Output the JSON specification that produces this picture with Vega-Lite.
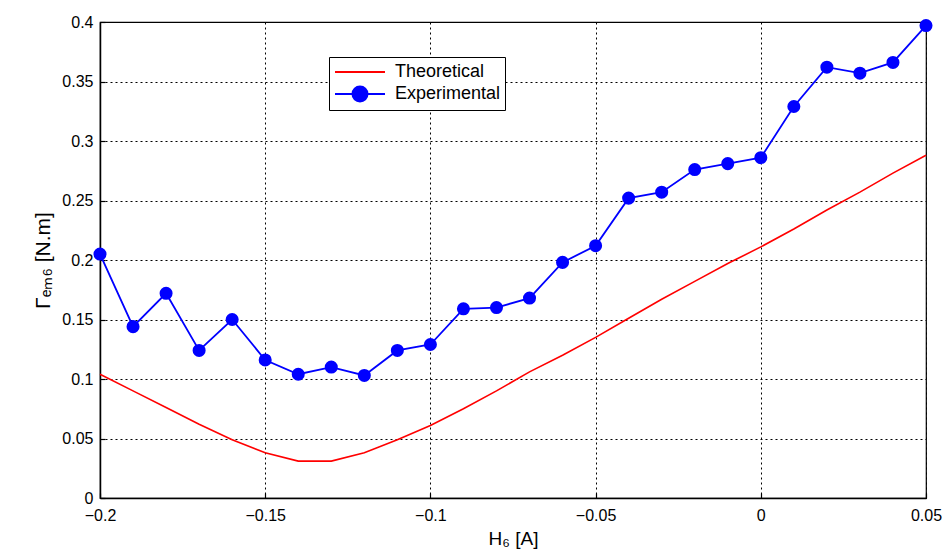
{
  "$schema": "https://vega.github.io/schema/vega-lite/v6.json",
  "width": 826,
  "height": 476,
  "autosize": {"type": "none"},
  "padding": {"left": 100, "top": 22, "right": 22, "bottom": 58},
  "background": "white",
  "config": {
    "font": "Liberation Sans",
    "view": {"stroke": "black", "strokeWidth": 1.2},
    "axis": {
      "domainColor": "black",
      "domainWidth": 1.5,
      "tickColor": "black",
      "tickSize": -5,
      "tickWidth": 1.2,
      "gridColor": "black",
      "gridDash": [2, 3],
      "gridOpacity": 1,
      "gridWidth": 1,
      "labelFont": "Liberation Sans",
      "labelFontSize": 16,
      "labelColor": "black",
      "titleFont": "Liberation Sans",
      "titleColor": "black",
      "titleFontWeight": "normal"
    }
  },
  "data": {
    "values": [
      {"h": -0.2, "gamma": 0.205, "series": "Experimental"},
      {"h": -0.19, "gamma": 0.144, "series": "Experimental"},
      {"h": -0.18, "gamma": 0.172, "series": "Experimental"},
      {"h": -0.17, "gamma": 0.124, "series": "Experimental"},
      {"h": -0.16, "gamma": 0.150, "series": "Experimental"},
      {"h": -0.15, "gamma": 0.116, "series": "Experimental"},
      {"h": -0.14, "gamma": 0.104, "series": "Experimental"},
      {"h": -0.13, "gamma": 0.110, "series": "Experimental"},
      {"h": -0.12, "gamma": 0.103, "series": "Experimental"},
      {"h": -0.11, "gamma": 0.124, "series": "Experimental"},
      {"h": -0.1, "gamma": 0.129, "series": "Experimental"},
      {"h": -0.09, "gamma": 0.159, "series": "Experimental"},
      {"h": -0.08, "gamma": 0.160, "series": "Experimental"},
      {"h": -0.07, "gamma": 0.168, "series": "Experimental"},
      {"h": -0.06, "gamma": 0.198, "series": "Experimental"},
      {"h": -0.05, "gamma": 0.212, "series": "Experimental"},
      {"h": -0.04, "gamma": 0.252, "series": "Experimental"},
      {"h": -0.03, "gamma": 0.257, "series": "Experimental"},
      {"h": -0.02, "gamma": 0.276, "series": "Experimental"},
      {"h": -0.01, "gamma": 0.281, "series": "Experimental"},
      {"h": 0, "gamma": 0.286, "series": "Experimental"},
      {"h": 0.01, "gamma": 0.329, "series": "Experimental"},
      {"h": 0.02, "gamma": 0.362, "series": "Experimental"},
      {"h": 0.03, "gamma": 0.357, "series": "Experimental"},
      {"h": 0.04, "gamma": 0.366, "series": "Experimental"},
      {"h": 0.05, "gamma": 0.397, "series": "Experimental"},
      {"h": -0.2, "gamma": 0.104, "series": "Theoretical"},
      {"h": -0.19, "gamma": 0.090, "series": "Theoretical"},
      {"h": -0.18, "gamma": 0.076, "series": "Theoretical"},
      {"h": -0.17, "gamma": 0.062, "series": "Theoretical"},
      {"h": -0.16, "gamma": 0.049, "series": "Theoretical"},
      {"h": -0.15, "gamma": 0.038, "series": "Theoretical"},
      {"h": -0.14, "gamma": 0.031, "series": "Theoretical"},
      {"h": -0.13, "gamma": 0.031, "series": "Theoretical"},
      {"h": -0.12, "gamma": 0.038, "series": "Theoretical"},
      {"h": -0.11, "gamma": 0.049, "series": "Theoretical"},
      {"h": -0.1, "gamma": 0.061, "series": "Theoretical"},
      {"h": -0.09, "gamma": 0.075, "series": "Theoretical"},
      {"h": -0.08, "gamma": 0.090, "series": "Theoretical"},
      {"h": -0.07, "gamma": 0.106, "series": "Theoretical"},
      {"h": -0.06, "gamma": 0.120, "series": "Theoretical"},
      {"h": -0.05, "gamma": 0.135, "series": "Theoretical"},
      {"h": -0.04, "gamma": 0.151, "series": "Theoretical"},
      {"h": -0.03, "gamma": 0.167, "series": "Theoretical"},
      {"h": -0.02, "gamma": 0.182, "series": "Theoretical"},
      {"h": -0.01, "gamma": 0.197, "series": "Theoretical"},
      {"h": 0, "gamma": 0.211, "series": "Theoretical"},
      {"h": 0.01, "gamma": 0.226, "series": "Theoretical"},
      {"h": 0.02, "gamma": 0.242, "series": "Theoretical"},
      {"h": 0.03, "gamma": 0.257, "series": "Theoretical"},
      {"h": 0.04, "gamma": 0.273, "series": "Theoretical"},
      {"h": 0.05, "gamma": 0.288, "series": "Theoretical"}
    ]
  },
  "encoding": {
    "x": {
      "field": "h",
      "type": "quantitative",
      "scale": {"domain": [-0.2, 0.05], "nice": false, "zero": false},
      "axis": {
        "values": [-0.2, -0.15, -0.1, -0.05, 0, 0.05],
        "format": "~g",
        "title": "H₆ [A]",
        "titleFontSize": 19,
        "labelPadding": 14,
        "titlePadding": 6,
        "labelFlush": false
      }
    },
    "y": {
      "field": "gamma",
      "type": "quantitative",
      "scale": {"domain": [0, 0.4], "nice": false},
      "axis": {
        "values": [0, 0.05, 0.1, 0.15, 0.2, 0.25, 0.3, 0.35, 0.4],
        "format": "~g",
        "title": "Γₑₘ₆ [N.m]",
        "titleFontSize": 21,
        "labelPadding": 12,
        "titlePadding": 8
      }
    },
    "color": {
      "field": "series",
      "type": "nominal",
      "scale": {"domain": ["Theoretical", "Experimental"], "range": ["#ff0000", "#0000ff"]},
      "legend": {
        "title": null,
        "orient": "none",
        "legendX": 229,
        "legendY": 35,
        "labelFontSize": 18,
        "labelColor": "black",
        "labelFont": "Liberation Sans",
        "strokeColor": "black",
        "fillColor": "white",
        "padding": 4,
        "rowPadding": 1,
        "symbolSize": 400,
        "symbolOffset": 16,
        "symbolStrokeWidth": 2,
        "labelOffset": 24,
        "encode": {
          "symbols": {
            "update": {
              "shape": {"signal": "datum.value === 'Experimental' ? 'M-2.5,0L-0.75,0M0.75,0L2.5,0M-0.75,0A0.75,0.75 0 1,1 0.75,0A0.75,0.75 0 1,1 -0.75,0Z' : 'M-2.5,0L2.5,0'"},
              "fill": {"signal": "datum.value === 'Experimental' ? '#0000ff' : 'transparent'"},
              "fillOpacity": {"value": 1},
              "opacity": {"value": 1}
            }
          }
        }
      }
    }
  },
  "layer": [
    {
      "mark": {"type": "line", "strokeWidth": 1.6},
      "transform": [{"filter": "datum.series === 'Theoretical'"}]
    },
    {
      "mark": {"type": "line", "strokeWidth": 1.8},
      "transform": [{"filter": "datum.series === 'Experimental'"}]
    },
    {
      "mark": {"type": "point", "filled": true, "opacity": 1, "size": 170, "shape": "circle"},
      "transform": [{"filter": "datum.series === 'Experimental'"}]
    }
  ]
}
